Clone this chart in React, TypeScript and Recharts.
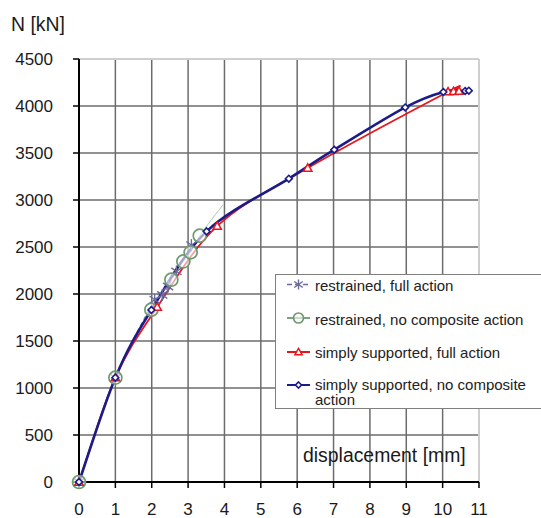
import React from 'react';
import { LineChart, Line, XAxis, YAxis, CartesianGrid, ReferenceLine, Legend } from 'recharts';

// ---- data ----
const xTicks = [0, 1, 2, 3, 4, 5, 6, 7, 8, 9, 10, 11];
const yTicks = [0, 500, 1000, 1500, 2000, 2500, 3000, 3500, 4000, 4500];

// restrained, full action
const restrFullX = [0, 1, 2.08, 2.29, 2.45, 2.68, 3.09];
const restrFullY = [0, 1110, 1940, 1990, 2080, 2240, 2520];

// restrained, no composite action (last point: unmarked continuation line)
const restrNoX = [0, 1, 1.99, 2.54, 2.87, 3.07, 3.32, 3.96];
const restrNoY = [0, 1110, 1833, 2152, 2347, 2443, 2620, 2950];

// simply supported, full action
const ssFullX = [0, 1, 2.15, 3.8, 6.29, 10.15, 10.3, 10.45];
const ssFullY = [0, 1110, 1860, 2722, 3340, 4152, 4155, 4158];

// simply supported, no composite action
const ssNoX = [0, 1, 1.99, 3.51, 5.77, 7.02, 8.97, 10.02, 10.62, 10.72];
const ssNoY = [0, 1110, 1830, 2666, 3227, 3535, 3985, 4149, 4160, 4163];

const legendLabels = [
  'restrained, full action',
  'restrained, no composite action',
  'simply supported, full action',
  'simply supported, no composite',
  'action',
];

const toData = (xs: number[], ys: number[]) => xs.map((x, i) => ({ x, y: ys[i] }));
const restrFullData = toData(restrFullX, restrFullY);
const restrNoData = toData(restrNoX, restrNoY);
const ssFullData = toData(ssFullX, ssFullY);
const ssNoData = toData(ssNoX, ssNoY);

const C_ASTER = '#6a6aa0';
const C_GREEN = '#6e9a70';
const C_RED = '#e8161c';
const C_BLUE = '#1c1c88';

// Catmull-Rom smoothing (similar to spreadsheet "smoothed line")
function smoothCurve(context: any) {
  let pts: number[][] = [];
  return {
    areaStart() {},
    areaEnd() {},
    lineStart() {
      pts = [];
    },
    lineEnd() {
      const n = pts.length;
      if (n === 0) return;
      context.moveTo(pts[0][0], pts[0][1]);
      if (n === 1) return;
      const t = 1 / 6;
      for (let i = 0; i < n - 1; i++) {
        const p0 = pts[Math.max(0, i - 1)];
        const p1 = pts[i];
        const p2 = pts[i + 1];
        const p3 = pts[Math.min(n - 1, i + 2)];
        context.bezierCurveTo(
          p1[0] + (p2[0] - p0[0]) * t,
          p1[1] + (p2[1] - p0[1]) * t,
          p2[0] - (p3[0] - p1[0]) * t,
          p2[1] - (p3[1] - p1[1]) * t,
          p2[0],
          p2[1]
        );
      }
    },
    point(x: number, y: number) {
      pts.push([+x, +y]);
    },
  };
}

const Asterisk = ({ cx, cy, s = 6 }: any) => (
  <g stroke={C_ASTER} strokeWidth={1.4} fill="none">
    <line x1={cx} y1={cy - s} x2={cx} y2={cy + s} />
    <line x1={cx - s * 0.85} y1={cy - s * 0.6} x2={cx + s * 0.85} y2={cy + s * 0.6} />
    <line x1={cx - s * 0.85} y1={cy + s * 0.6} x2={cx + s * 0.85} y2={cy - s * 0.6} />
  </g>
);
const GreenCircle = ({ cx, cy, r = 6.5 }: any) => (
  <circle cx={cx} cy={cy} r={r} stroke={C_GREEN} strokeWidth={1.7} fill="#ffffff" fillOpacity={0.6} />
);
const RedTriangle = ({ cx, cy, s = 4.2 }: any) => (
  <path
    d={`M${cx},${cy - s} L${cx + s},${cy + s * 0.75} L${cx - s},${cy + s * 0.75} Z`}
    stroke={C_RED}
    strokeWidth={1.5}
    fill="#ffffff"
  />
);
const BlueDiamond = ({ cx, cy, s = 3.4 }: any) => (
  <path
    d={`M${cx},${cy - s} L${cx + s},${cy} L${cx},${cy + s} L${cx - s},${cy} Z`}
    stroke={C_BLUE}
    strokeWidth={1.6}
    fill="#ffffff"
  />
);

const renderAster = (p: any) => <Asterisk key={`a-${p.index}`} cx={p.cx} cy={p.cy} />;
const renderGreen = (p: any) =>
  p.index === restrNoX.length - 1 ? <g key={`g-${p.index}`} /> : <GreenCircle key={`g-${p.index}`} cx={p.cx} cy={p.cy} />;
const renderRed = (p: any) => <RedTriangle key={`r-${p.index}`} cx={p.cx} cy={p.cy} />;
const renderBlue = (p: any) => <BlueDiamond key={`b-${p.index}`} cx={p.cx} cy={p.cy} />;

const LegendBox = () => {
  const rows = [9.5, 43, 77, 110];
  const base = [16, 49.5, 83, 114.5, 130];
  return (
    <div
      style={{
        width: 270,
        height: 135,
        boxSizing: 'border-box',
        border: '1.5px solid #808080',
        background: '#ffffff',
      }}
    >
      <svg width={268} height={132} style={{ display: 'block', overflow: 'visible' }}>
        <g fontFamily="'Liberation Sans', Arial, sans-serif" fontSize={15} fill="#222">
          <line x1={11} x2={34} y1={rows[0]} y2={rows[0]} stroke={C_ASTER} strokeWidth={1.5} strokeDasharray="5,3" />
          <Asterisk cx={22.5} cy={rows[0]} s={5} />
          <line x1={11} x2={34} y1={rows[1]} y2={rows[1]} stroke={C_GREEN} strokeWidth={1.8} />
          <GreenCircle cx={22.5} cy={rows[1]} r={5} />
          <line x1={11} x2={34} y1={rows[2]} y2={rows[2]} stroke={C_RED} strokeWidth={2} />
          <RedTriangle cx={22.5} cy={rows[2]} s={3.6} />
          <line x1={11} x2={34} y1={rows[3]} y2={rows[3]} stroke={C_BLUE} strokeWidth={2} />
          <BlueDiamond cx={22.5} cy={rows[3]} s={3} />
          {legendLabels.map((t, i) => (
            <text key={t} x={39} y={base[i]}>
              {t}
            </text>
          ))}
        </g>
      </svg>
    </div>
  );
};

export default function App() {
  const font = "'Liberation Sans', Arial, Helvetica, sans-serif";
  return (
    <div
      style={{
        position: 'absolute',
        left: 0,
        top: 0,
        width: 541,
        height: 518,
        overflow: 'hidden',
        background: '#ffffff',
        fontFamily: font,
      }}
    >
      <LineChart width={541} height={518} margin={{ top: 59, right: 62, bottom: 0, left: 0 }}>
        <CartesianGrid stroke="#6c6c6c" strokeWidth={1.5} />
        <XAxis
          type="number"
          dataKey="x"
          domain={[0, 11]}
          ticks={xTicks}
          interval={0}
          height={36}
          axisLine={{ stroke: '#000', strokeWidth: 2 }}
          tickLine={{ stroke: '#000', strokeWidth: 1.5 }}
          tickSize={6}
          tickMargin={15}
          tick={{ fontSize: 17, fill: '#1a1a1a', fontFamily: font }}
        />
        <YAxis
          type="number"
          dataKey="y"
          domain={[0, 4500]}
          ticks={yTicks}
          interval={0}
          width={79}
          axisLine={{ stroke: '#000', strokeWidth: 2 }}
          tickLine={{ stroke: '#000', strokeWidth: 1.5 }}
          tickSize={6}
          tickMargin={20}
          tick={{ fontSize: 17, fill: '#1a1a1a', fontFamily: font }}
        />
        <ReferenceLine x={11} stroke="#cfcfcf" strokeWidth={2} />
        <ReferenceLine y={4500} stroke="#cfcfcf" strokeWidth={2} />
        <Legend
          layout="horizontal"
          verticalAlign="middle"
          align="center"
          wrapperStyle={{ left: 275, top: 274, width: 270, height: 135 }}
          content={() => <LegendBox />}
        />
        <Line
          data={restrFullData}
          dataKey="y"
          type={smoothCurve as any}
          stroke={C_ASTER}
          strokeWidth={1}
          strokeDasharray="4,3"
          dot={renderAster}
          activeDot={false}
          isAnimationActive={false}
        />
        <Line
          data={restrNoData}
          dataKey="y"
          type={smoothCurve as any}
          stroke="#a9cba9"
          strokeWidth={1}
          dot={renderGreen}
          activeDot={false}
          isAnimationActive={false}
        />
        <Line
          data={ssFullData}
          dataKey="y"
          type={smoothCurve as any}
          stroke={C_RED}
          strokeWidth={1.8}
          dot={renderRed}
          activeDot={false}
          isAnimationActive={false}
        />
        <Line
          data={ssNoData}
          dataKey="y"
          type={smoothCurve as any}
          stroke={C_BLUE}
          strokeWidth={2.6}
          dot={renderBlue}
          activeDot={false}
          isAnimationActive={false}
        />
      </LineChart>
      <svg
        width={541}
        height={518}
        style={{ position: 'absolute', left: 0, top: 0, pointerEvents: 'none' }}
      >
        <text x={11} y={31} fontSize={19.4} fill="#1a1a1a" fontFamily={font}>
          N [kN]
        </text>
        <text x={303} y={462} fontSize={19.4} fill="#1a1a1a" fontFamily={font}>
          displacement [mm]
        </text>
      </svg>
    </div>
  );
}
